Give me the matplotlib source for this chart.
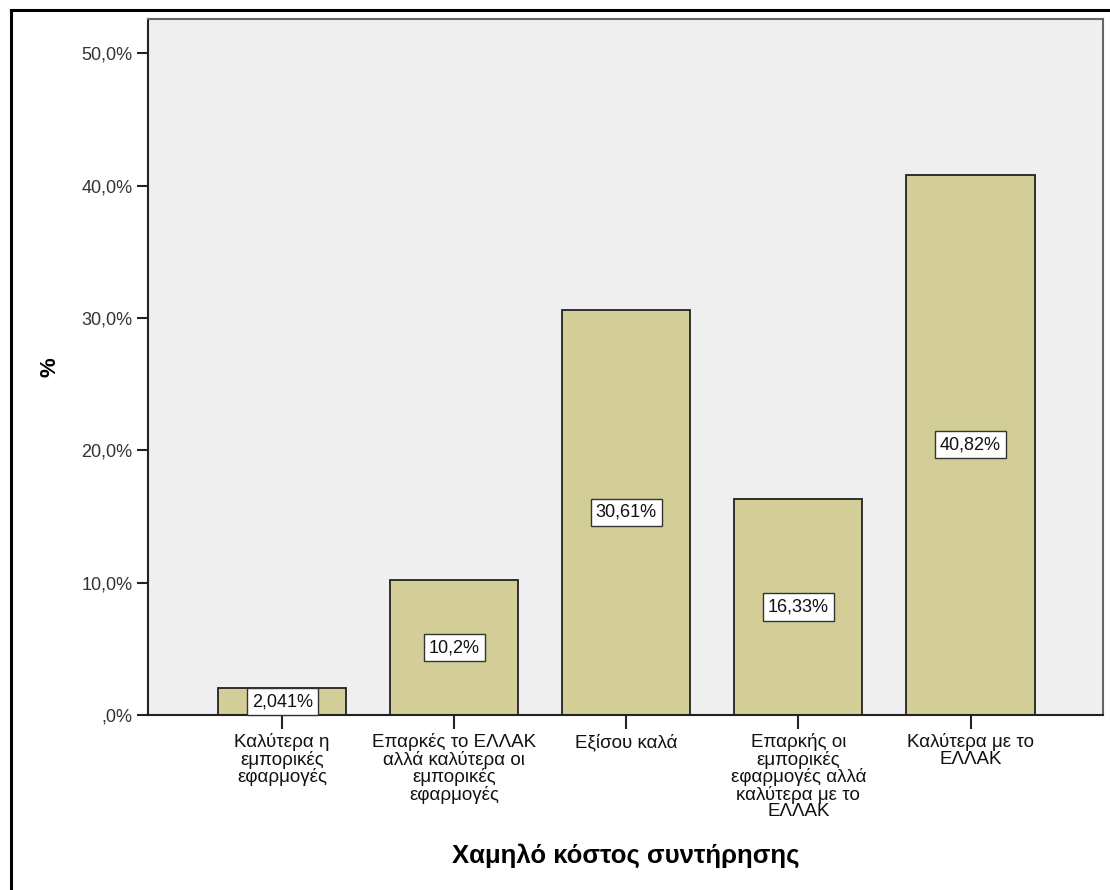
import matplotlib
matplotlib.use("Agg")
import matplotlib.pyplot as plt
from matplotlib.lines import Line2D

plt.rcParams['font.family'] = ['Liberation Sans', 'DejaVu Sans']

categories = [
    "Καλύτερα η\nεμπορικές\nεφαρμογές",
    "Επαρκές το ΕΛΛΑΚ\nαλλά καλύτερα οι\nεμπορικές\nεφαρμογές",
    "Εξίσου καλά",
    "Επαρκής οι\nεμπορικές\nεφαρμογές αλλά\nκαλύτερα με το\nΕΛΛΑΚ",
    "Καλύτερα με το\nΕΛΛΑΚ",
]
percent = [2.041, 10.2, 30.61, 16.33, 40.82]
value_labels = ["2,041%", "10,2%", "30,61%", "16,33%", "40,82%"]
y_ticks = [0, 10, 20, 30, 40, 50]
y_tick_labels = [",0%", "10,0%", "20,0%", "30,0%", "40,0%", "50,0%"]

fig = plt.figure(figsize=(11.1, 8.9), dpi=100)
ax = fig.add_axes([0.1333, 0.1966, 0.8604, 0.7821])
ax.set_facecolor("#EFEFEF")

x = list(range(len(categories)))
ax.bar(x, percent, width=0.744, color="#D3CE97", edgecolor="#222222",
       linewidth=1.3, zorder=2)

for xi, v, lab in zip(x, percent, value_labels):
    ax.text(xi, v / 2, lab, ha="center", va="center", fontsize=13,
            color="#111111", zorder=3,
            bbox=dict(boxstyle="square,pad=0.28", facecolor="white",
                      edgecolor="#333333", linewidth=1.0))

ax.set_xlim(-0.78, 4.77)
ax.set_ylim(0, 52.6)
ax.set_yticks(y_ticks)
ax.set_yticklabels(y_tick_labels, fontsize=13, color="#333333")
ax.set_xticks(x)
ax.set_xticklabels(categories, fontsize=13.5, color="#111111",
                   linespacing=0.97, va="top")
ax.tick_params(axis="y", direction="out", length=8, width=1.5,
               color="#222222", pad=3)
ax.tick_params(axis="x", direction="out", length=10, width=1.5,
               color="#222222", pad=3)

for side in ["top", "right"]:
    ax.spines[side].set_color("#666666")
    ax.spines[side].set_linewidth(1.5)
for side in ["left", "bottom"]:
    ax.spines[side].set_color("#222222")
    ax.spines[side].set_linewidth(1.5)

ax.set_xlabel("Χαμηλό κόστος συντήρησης", fontsize=18.5, fontweight="bold",
              va="center")
ax.xaxis.set_label_coords(0.5005, -0.202)
ax.set_ylabel("%", fontsize=16, fontweight="bold", va="center")
ax.yaxis.set_label_coords(-0.1026, 0.5)

# outer frame (left and top edges)
fig.add_artist(Line2D([10.5 / 1110, 10.5 / 1110], [0, 1 - 9.5 / 890],
                      transform=fig.transFigure, color="black", linewidth=2.2))
fig.add_artist(Line2D([10.5 / 1110, 1], [1 - 9.5 / 890, 1 - 9.5 / 890],
                      transform=fig.transFigure, color="black", linewidth=2.2))

fig.savefig("out.png", dpi=100)
